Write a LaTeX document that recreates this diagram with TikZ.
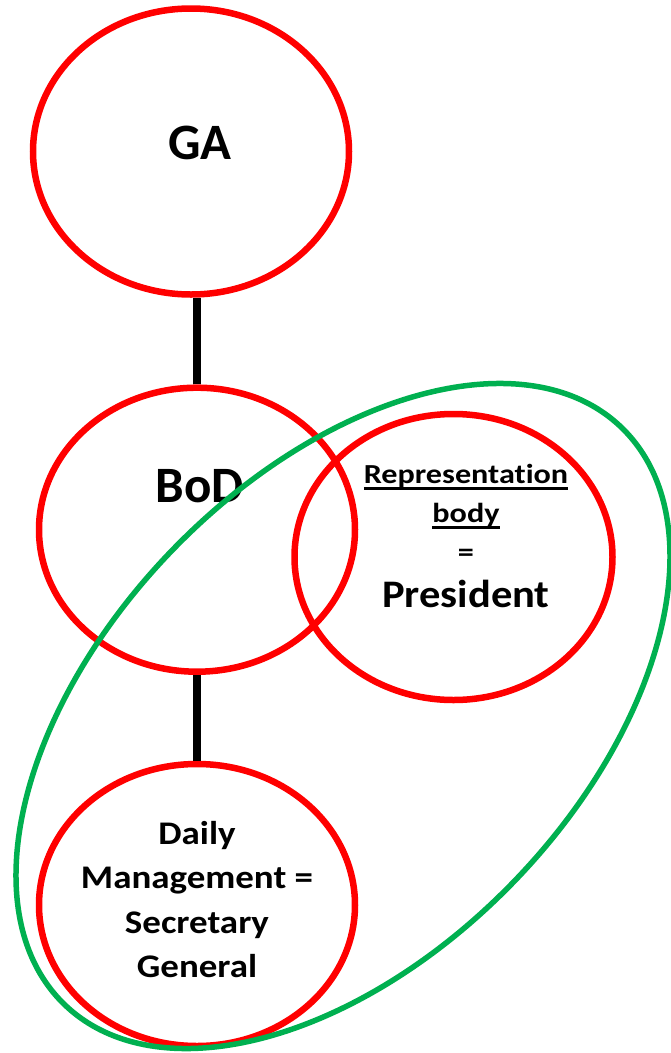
\documentclass[tikz,border=0pt]{standalone}
\usepackage{fontspec}
\setmainfont{Carlito}
\newfontfamily\widefont[FakeStretch=1.17, Ligatures=NoCommon]{Carlito}
\newfontfamily\dailyfont[FakeStretch=1.12, Ligatures=NoCommon]{Carlito}
\newfontfamily\presfont[FakeStretch=1.09]{Carlito}
\usetikzlibrary{shapes.geometric}
\definecolor{groupgreen}{RGB}{0,176,80}
\newcommand{\undl}[1]{\setbox0=\hbox{#1}\rlap{\vrule height -4.3pt depth 6.7pt width \wd0}\box0}

\begin{document}
\begin{tikzpicture}[x=1pt,y=-1pt,
        oval/.style={ellipse, draw=red, line width=6.5pt, minimum width=316pt, inner sep=0pt},
        link/.style={line width=8.7pt},
        lbl/.style={font=\bfseries, inner sep=0pt}]
        \useasboundingbox (0,0) rectangle (671,1053);

        % bodies
        \node[oval, minimum height=286pt] (ga) at (191,151.5) {};
        \node[oval, minimum height=284pt] (bod) at (197,529.7) {};
        \node[oval, minimum width=318pt, minimum height=286pt] (rep) at (453.5,557) {};
        \node[oval, minimum height=282pt] (daily) at (197,905) {};

        % connections
        \draw[link] (bod.north) -- (bod.north |- ga.south);
        \draw[link] (bod) -- (daily);

        % labels
        \node[lbl, anchor=base, font=\bfseries\fontsize{51}{60}\selectfont] (galbl) at (200,159.3) {GA};
        \node[lbl, anchor=base, font=\bfseries\fontsize{51}{60}\selectfont] (bodlbl) at (200,502.6) {BoD};
        \node[lbl, align=center, font=\widefont\bfseries\fontsize{27.5}{39}\selectfont] (replbl) at (466,536)
            {\undl{Representation}\\ \undl{body}\\[0.3pt] =\\[7.5pt] {\presfont\bfseries\fontsize{39}{44}\selectfont President}};
        \node[lbl, align=center, font=\dailyfont\bfseries\fontsize{33}{44.3}\selectfont] (dailylbl) at (197,899.5)
            {Daily\\ Management =\\ Secretary\\ General};

        % group round representation and daily management
        \node[ellipse, draw=groupgreen, line width=5.5pt, minimum width=802pt, minimum height=476pt,
            inner sep=0pt, rotate=46] (grp) at (343,716) {};
\end{tikzpicture}
\end{document}
